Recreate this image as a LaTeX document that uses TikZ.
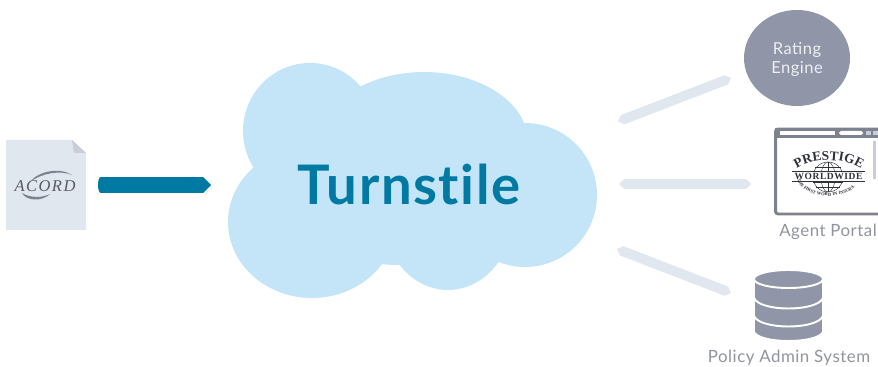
\documentclass[tikz,border=0pt]{standalone}
\usepackage{fontspec}
\setmainfont[LetterSpace=3]{Lato}
\newfontfamily\headfont[LetterSpace=3,Ligatures=NoCommon]{Lato}
\newfontfamily\logofont[LetterSpace=6]{Liberation Serif}
\newfontfamily\acordfont[LetterSpace=9]{Liberation Serif}
\usetikzlibrary{arrows.meta,decorations.text}
\definecolor{cloudblue}{HTML}{C3E5F7}
\definecolor{tealblue}{HTML}{0079A3}
\definecolor{barpale}{HTML}{E0E7EF}
\definecolor{slategrey}{HTML}{9096A8}
\definecolor{labelgrey}{HTML}{8F949F}
\definecolor{framegrey}{HTML}{7D828F}
\definecolor{foldgrey}{HTML}{C8CCDD}
\definecolor{logoink}{HTML}{30323A}
\tikzset{
  cloudlobe/.style={fill=cloudblue,draw=none},
  palelink/.style={barpale,line width=5.6pt,{Triangle Cap[]}-{Triangle Cap[]}},
  feedlink/.style={tealblue,line width=9pt,{Round Cap[length=1.5pt]}-{Triangle Cap[]}},
  sysname/.style={text=labelgrey,font=\fontsize{9.6}{11.5}\selectfont,align=center,inner sep=0pt},
  dbband/.style={fill=slategrey,draw=white,line width=1.1pt},
  swoosh/.style={fill=framegrey,draw=none},
}
\begin{document}
\begin{tikzpicture}[x=0.02cm,y=-0.02cm]
\clip (0,0) rectangle (878,367);
% cloud:
\fill[cloudlobe] (310,131) ellipse (67 and 68);
\fill[cloudlobe] (424,142) ellipse (104 and 70);
\fill[cloudlobe] (525,195) ellipse (72 and 72);
\fill[cloudlobe] (312,222) ellipse (84 and 76);
\fill[cloudlobe] (448,212) ellipse (66 and 78);
\fill[cloudlobe] (400,195) ellipse (120 and 70);
\node[text=tealblue,font=\headfont\fontsize{31}{34}\selectfont\bfseries,inner sep=0pt] (turnstile) at (409,184) {Turnstile};
% ACORD file:
\fill[barpale] (6,140) -- (72,140) -- (86,153) -- (86,230) -- (6,230) -- cycle;
\fill[foldgrey] (72,140) -- (86,153) -- (74,153) -- cycle;
\node[text=logoink!80,font=\acordfont\itshape\fontsize{9.4}{10}\selectfont,inner sep=0pt] (acord) at (45,186) {ACORD};
\fill[swoosh] (30,182) .. controls (38,171) and (60,167) .. (72,175) .. controls (60,170) and (42,173) .. cycle;
\fill[swoosh] (22,193) .. controls (26,201) and (42,202) .. (50,194) .. controls (42,198) and (30,198) .. cycle;
% links:
\coordinate (feedstart) at (98,185);
\coordinate (feedend) at (211,185);
\draw[feedlink] (feedstart) -- (feedend);
\coordinate (ratelinka) at (618,121.5);
\coordinate (ratelinkb) at (731,78);
\coordinate (portlinka) at (619,184);
\coordinate (portlinkb) at (751,184);
\coordinate (adminlinka) at (617,249);
\coordinate (adminlinkb) at (731,293);
\draw[palelink] (ratelinka) -- (ratelinkb);
\draw[palelink] (portlinka) -- (portlinkb);
\draw[palelink] (adminlinka) -- (adminlinkb);
% rating engine:
\fill[slategrey] (797,58) ellipse (53 and 48);
\node[text=white,font=\fontsize{9.4}{10.4}\selectfont,align=center,inner sep=0pt,opacity=.85] (rating) at (797,59.5) {Rating\\Engine};
% agent portal:
\draw[draw=framegrey,fill=white,line width=1.7pt,rounded corners=1.5pt] (775.5,129) rectangle (890,214);
\fill[framegrey] (775,128) rectangle (890,138);
\fill[white] (780,131) rectangle (835,135);
\fill[white,rounded corners=1pt] (839,131) rectangle (863,135);
\fill[foldgrey] (866,131) rectangle (871,135);
\fill[foldgrey] (873,131) rectangle (878,135);
\fill[foldgrey] (873,141) rectangle (876,179);
% logo:
\draw[logoink,line width=.25pt] (828,177) circle (15);
\draw[logoink,line width=.25pt] (828,177) ellipse (7 and 15);
\draw[logoink,line width=.25pt] (815,167) -- (841,167) (813,172) -- (843,172) (813,182) -- (843,182) (816,187) -- (840,187) (828,162) -- (828,192);
\fill[white] (792,172) rectangle (865,181);
\draw[logoink,line width=.6pt] (792,171.5) -- (865,171.5) (792,181.5) -- (865,181.5);
\node[text=logoink,font=\logofont\bfseries\fontsize{5.4}{6}\selectfont,inner sep=0pt] (worldwide) at (828.5,176.6) {WORLDWIDE};
\path[decorate,decoration={text along path,text align=center,text={|\logofont\bfseries\fontsize{7.6}{9}\selectfont\color{logoink}|PRESTIGE}}] (795,170) .. controls (812,157) and (845,157) .. (863,170);
\path[decorate,decoration={text along path,text align=center,text={|\logofont\bfseries\fontsize{2.6}{3}\selectfont\color{logoink}|THE FIRST WORD IN INSURANCE}}] (802,187) .. controls (814,199) and (843,199) .. (855,187);
\node[sysname] (portal) at (828,232) {Agent Portal};
% policy admin db:
\draw[dbband] (754,315) -- (754,332) .. controls (760,344) and (817,344) .. (823,332) -- (823,315) -- cycle;
\draw[dbband] (754,298) -- (754,316) .. controls (760,330) and (817,330) .. (823,316) -- (823,298) -- cycle;
\draw[dbband] (754,280) -- (754,298) .. controls (760,312) and (817,312) .. (823,298) -- (823,280) -- cycle;
\fill[dbband] (788.5,279) ellipse (34.5 and 9);
\node[sysname] (admin) at (789,358) {Policy Admin System};
\end{tikzpicture}
\end{document}
